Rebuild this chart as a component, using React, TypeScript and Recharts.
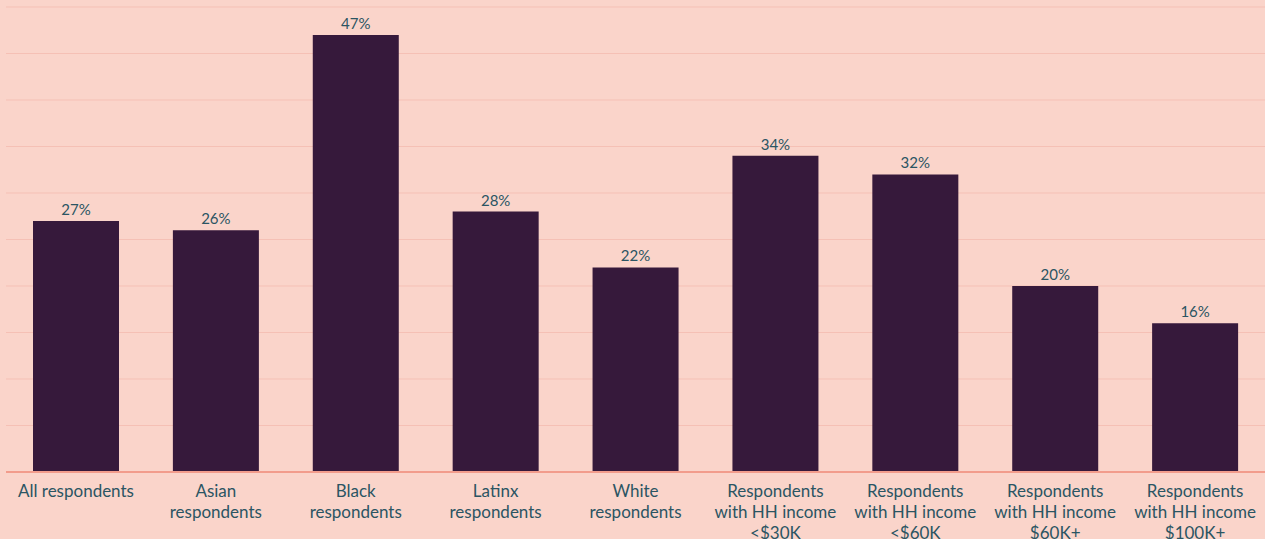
import React from 'react';
import { BarChart, Bar, XAxis, YAxis, CartesianGrid, LabelList } from 'recharts';

const categories = [
  'All respondents',
  'Asian\nrespondents',
  'Black\nrespondents',
  'Latinx\nrespondents',
  'White\nrespondents',
  'Respondents\nwith HH income\n<$30K',
  'Respondents\nwith HH income\n<$60K',
  'Respondents\nwith HH income\n$60K+',
  'Respondents\nwith HH income\n$100K+',
];
const values = [27, 26, 47, 28, 22, 34, 32, 20, 16];
const yTicks = [0, 5, 10, 15, 20, 25, 30, 35, 40, 45, 50];

const data = categories.map((c, i) => ({ name: c, value: values[i] }));

const TEXT = '#2B5563';
const FONT = 'Lato, "Noto Sans", sans-serif';

const Tick = (props: any) => {
  const { x, y, payload } = props;
  const lines = String(payload.value).split('\n');
  return (
    <g transform={`translate(${x},${y})`}>
      <text textAnchor="middle" fill={TEXT} fontFamily={FONT} fontSize={17}>
        {lines.map((l, i) => (
          <tspan key={i} x={0} y={17 + i * 21}>{l}</tspan>
        ))}
      </text>
    </g>
  );
};

export default function App() {
  return (
    <div style={{ position: 'fixed', left: 0, top: 0, width: 1265, height: 539, background: '#FAD4CA' }}>
      <BarChart width={1265} height={539} data={data} margin={{ top: 7, right: 0, left: 6, bottom: 0 }} barSize={86}>
        <CartesianGrid vertical={false} stroke="#F5C0B5" strokeWidth={1} />
        <YAxis hide domain={[0, 50]} ticks={yTicks} />
        <XAxis
          dataKey="name"
          interval={0}
          height={67}
          tickLine={false}
          axisLine={{ stroke: '#F29C8C', strokeWidth: 2 }}
          tick={<Tick />}
        />
        <Bar dataKey="value" fill="#36193B" isAnimationActive={false}>
          <LabelList
            dataKey="value"
            position="top"
            formatter={(v: any) => `${v}%`}
            fill={TEXT}
            fontFamily={FONT}
            fontSize={15}
            offset={6}
          />
        </Bar>
      </BarChart>
    </div>
  );
}
